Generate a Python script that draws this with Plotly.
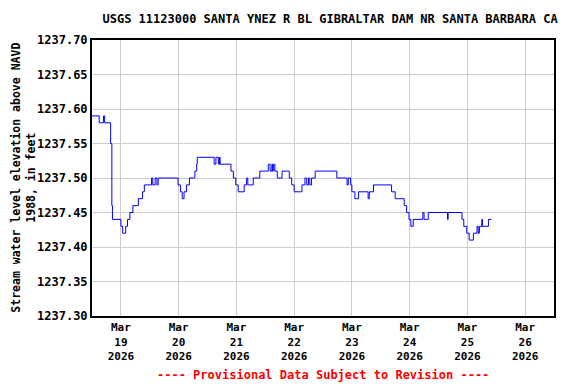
import plotly.graph_objects as go

# Change points of the gage height record (step series)
times = [
    "2026-03-18 12:00", "2026-03-18 15:00", "2026-03-18 16:45", "2026-03-18 17:15",
    "2026-03-18 19:45", "2026-03-18 20:15", "2026-03-18 20:30", "2026-03-19 00:00",
    "2026-03-19 00:45", "2026-03-19 02:00", "2026-03-19 02:45", "2026-03-19 03:45",
    "2026-03-19 05:00", "2026-03-19 07:15", "2026-03-19 09:00", "2026-03-19 09:45",
    "2026-03-19 12:45", "2026-03-19 13:15", "2026-03-19 14:15", "2026-03-19 15:00",
    "2026-03-19 15:30", "2026-03-19 23:45", "2026-03-20 00:45", "2026-03-20 01:30",
    "2026-03-20 02:15", "2026-03-20 03:15", "2026-03-20 04:30", "2026-03-20 06:45",
    "2026-03-20 07:30", "2026-03-20 07:45", "2026-03-20 14:45", "2026-03-20 15:30",
    "2026-03-20 16:30", "2026-03-20 17:00", "2026-03-20 17:15", "2026-03-20 21:45",
    "2026-03-20 22:45", "2026-03-20 23:45", "2026-03-21 00:45", "2026-03-21 03:15",
    "2026-03-21 04:15", "2026-03-21 04:45", "2026-03-21 07:00", "2026-03-21 09:45",
    "2026-03-21 13:15", "2026-03-21 14:00", "2026-03-21 14:45", "2026-03-21 15:00",
    "2026-03-21 15:30", "2026-03-21 16:00", "2026-03-21 17:00", "2026-03-21 19:00",
    "2026-03-21 22:00", "2026-03-21 23:00", "2026-03-22 00:00", "2026-03-22 03:15",
    "2026-03-22 04:30", "2026-03-22 05:15", "2026-03-22 06:00", "2026-03-22 06:30",
    "2026-03-22 07:15", "2026-03-22 08:45", "2026-03-22 17:45", "2026-03-22 22:00",
    "2026-03-22 22:30", "2026-03-22 23:30", "2026-03-23 00:00", "2026-03-23 01:15",
    "2026-03-23 02:45", "2026-03-23 06:45", "2026-03-23 07:15", "2026-03-23 09:00",
    "2026-03-23 16:30", "2026-03-23 18:00", "2026-03-23 21:45", "2026-03-23 22:45",
    "2026-03-23 23:45", "2026-03-24 00:30", "2026-03-24 01:30", "2026-03-24 05:30",
    "2026-03-24 06:00", "2026-03-24 07:45", "2026-03-24 15:45", "2026-03-24 16:00",
    "2026-03-24 21:45", "2026-03-24 22:30", "2026-03-24 23:45", "2026-03-25 00:45",
    "2026-03-25 02:30", "2026-03-25 04:00", "2026-03-25 04:30", "2026-03-25 05:00",
    "2026-03-25 06:00", "2026-03-25 06:15", "2026-03-25 08:45", "2026-03-25 10:00",
]
values = [
    1237.59, 1237.58, 1237.59, 1237.58,
    1237.55, 1237.46, 1237.44, 1237.43,
    1237.42, 1237.43, 1237.44, 1237.45,
    1237.46, 1237.47, 1237.48, 1237.49,
    1237.50, 1237.49, 1237.50, 1237.49,
    1237.50, 1237.49, 1237.48, 1237.47,
    1237.48, 1237.49, 1237.50, 1237.51,
    1237.52, 1237.53, 1237.52, 1237.53,
    1237.52, 1237.53, 1237.52, 1237.51,
    1237.50, 1237.49, 1237.48, 1237.49,
    1237.50, 1237.49, 1237.50, 1237.51,
    1237.52, 1237.51, 1237.52, 1237.51,
    1237.52, 1237.51, 1237.50, 1237.51,
    1237.50, 1237.49, 1237.48, 1237.49,
    1237.50, 1237.49, 1237.50, 1237.49,
    1237.50, 1237.51, 1237.50, 1237.49,
    1237.50, 1237.49, 1237.48, 1237.47,
    1237.48, 1237.47, 1237.48, 1237.49,
    1237.48, 1237.47, 1237.46, 1237.45,
    1237.44, 1237.43, 1237.44, 1237.45,
    1237.44, 1237.45, 1237.44, 1237.45,
    1237.44, 1237.43, 1237.42, 1237.41,
    1237.42, 1237.43, 1237.42, 1237.43,
    1237.44, 1237.43, 1237.44, 1237.44,
]

x_tick_dates = ["2026-03-19", "2026-03-20", "2026-03-21", "2026-03-22",
                "2026-03-23", "2026-03-24", "2026-03-25", "2026-03-26"]
x_tick_labels = ["Mar<br>19<br>2026", "Mar<br>20<br>2026", "Mar<br>21<br>2026",
                 "Mar<br>22<br>2026", "Mar<br>23<br>2026", "Mar<br>24<br>2026",
                 "Mar<br>25<br>2026", "Mar<br>26<br>2026"]
y_tick_values = [1237.30, 1237.35, 1237.40, 1237.45, 1237.50, 1237.55, 1237.60, 1237.65, 1237.70]
y_tick_labels = ["1237.30", "1237.35", "1237.40", "1237.45", "1237.50",
                 "1237.55", "1237.60", "1237.65", "1237.70"]

title_text = "USGS 11123000 SANTA YNEZ R BL GIBRALTAR DAM NR SANTA BARBARA CA"
y_title = "Stream water level elevation above NAVD<br>1988, in feet"
footer = "---- Provisional Data Subject to Revision ----"

FONT = "DejaVu Sans Mono"

fig = go.Figure()
fig.add_trace(go.Scatter(
    x=times, y=values, mode="lines", line=dict(color="#0000ff", width=1, shape="hv"),
    showlegend=False, hoverinfo="skip",
))

# page body has an 8px default margin, so the figure is sized to fit inside it
fig.update_layout(
    width=568, height=376,
    margin=dict(l=84, r=22, t=32, b=68, autoexpand=False),
    paper_bgcolor="white", plot_bgcolor="white",
    font=dict(family=FONT, size=12, color="black"),
    title=dict(text="<b>" + title_text + "</b>", x=0.567, xanchor="center", y=0.971, yanchor="middle",
               font=dict(family=FONT, size=12, color="black")),
    xaxis=dict(
        range=["2026-03-18 12:00", "2026-03-26 12:00"],
        tickvals=x_tick_dates, ticktext=["<b>" + t + "</b>" for t in x_tick_labels],
        showgrid=True, gridcolor="#cccccc", gridwidth=1,
        showline=True, linecolor="black", linewidth=2, mirror=True,
        ticks="", tickfont=dict(family=FONT, size=11, color="black"),
        zeroline=False, automargin=False,
    ),
    yaxis=dict(
        range=[1237.30, 1237.70],
        tickvals=y_tick_values, ticktext=["<b>" + t + "</b>" for t in y_tick_labels],
        showgrid=True, gridcolor="#cccccc", gridwidth=1,
        showline=True, linecolor="black", linewidth=2, mirror=True,
        ticks="", tickfont=dict(family=FONT, size=12, color="black"),
        zeroline=False, automargin=False,
    ),
    annotations=[
        dict(text="<b>" + footer + "</b>", x=0.5, xref="paper", y=-0.2138, yref="paper",
             xanchor="center", yanchor="middle", showarrow=False,
             font=dict(family=FONT, size=12, color="red")),
        dict(text="<b>" + y_title + "</b>", x=-0.150, xref="paper", y=0.5, yref="paper",
             xanchor="center", yanchor="middle", showarrow=False, textangle=-90,
             font=dict(family=FONT, size=11.5, color="black")),
    ],
)

fig.write_html("out.html")
